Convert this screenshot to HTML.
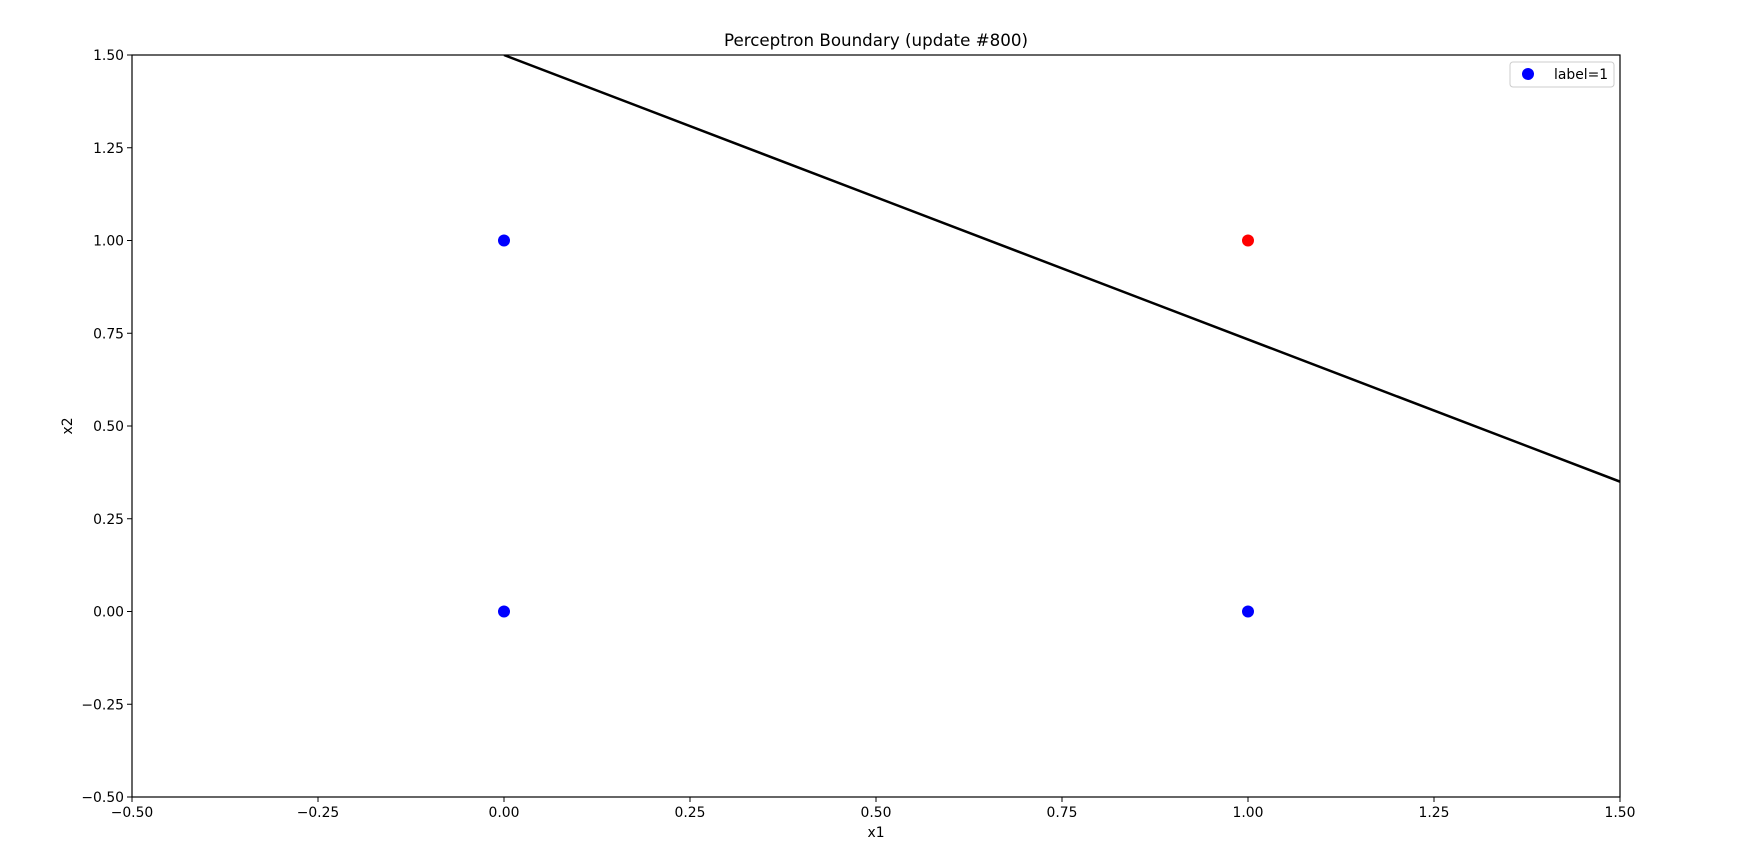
<!DOCTYPE html>
<html><head><meta charset="utf-8"><style>
body{margin:0;background:#fff;}
svg{display:block;font-family:"DejaVu Sans","Liberation Sans",sans-serif;}
</style></head><body>
<svg id="chart" width="1743" height="866">
<text x="876" y="46" font-size="16.7" text-anchor="middle">Perceptron Boundary (update #800)</text>
<g id="plot"></g>
<text x="876" y="837" font-size="13.9" text-anchor="middle">x1</text>
<text transform="translate(72,426) rotate(-90)" font-size="13.9" text-anchor="middle">x2</text>
</svg>
<script>
const xTicks=[-0.5,-0.25,0,0.25,0.5,0.75,1,1.25,1.5];
const yTicks=[-0.5,-0.25,0,0.25,0.5,0.75,1,1.25,1.5];
const pointsX=[0,0,1,1];
const pointsY=[0,1,0,1];
const pointColors=['blue','blue','blue','red'];
const boundaryX=[0,1.5];
const boundaryY=[1.5,0.35];
const L=132,R=1620,T=55,B=797;
const xs=v=>L+(v+0.5)/2*(R-L);
const ys=v=>B-(v+0.5)/2*(B-T);
const NS='http://www.w3.org/2000/svg';
const g=document.getElementById('plot');
function mk(tag,attrs){const e=document.createElementNS(NS,tag);for(const k in attrs)e.setAttribute(k,attrs[k]);g.appendChild(e);return e;}
const fmt=v=>(v<0?'\u2212':'')+Math.abs(v).toFixed(2);
xTicks.forEach(v=>{
 const t=mk('line',{x1:xs(v),x2:xs(v),y1:B,y2:B+5,stroke:'#000','stroke-width':1});
 
 
 const l=mk('text',{x:xs(v),y:B+20,'font-size':13.9,'text-anchor':'middle'});l.textContent=fmt(v);
 
 
});
yTicks.forEach(v=>{
 const t=mk('line',{x1:L-5,x2:L,y1:ys(v),y2:ys(v),stroke:'#000','stroke-width':1});
 
 
 const l=mk('text',{x:L-8,y:ys(v)+5,'font-size':13.9,'text-anchor':'end'});l.textContent=fmt(v);
 
 
});
const cp=mk('clipPath',{id:'clip'});
const cr=document.createElementNS(NS,'rect');cr.setAttribute('x',L);cr.setAttribute('y',T);cr.setAttribute('width',R-L);cr.setAttribute('height',B-T);cp.appendChild(cr);
const ln=mk('line',{x1:xs(boundaryX[0]),y1:ys(boundaryY[0]),x2:xs(boundaryX[1]),y2:ys(boundaryY[1]),stroke:'#000','stroke-width':2.5,'clip-path':'url(#clip)'});


pointsX.forEach((x,i)=>{
 const c=mk('circle',{cx:xs(x),cy:ys(pointsY[i]),r:6,fill:pointColors[i]});
 
 
});
const fr=mk('rect',{x:L,y:T,width:R-L,height:B-T,fill:'none',stroke:'#000','stroke-width':1.2});


const lg=mk('rect',{x:1510,y:62,width:104,height:25,rx:3,fill:'#fff',stroke:'#ccc','stroke-width':1});


const lm=mk('circle',{cx:1528,cy:74,r:6,fill:'blue'});


const lt=mk('text',{x:1554,y:79,'font-size':13.9});lt.textContent='label=1';


</script>
</body></html>
